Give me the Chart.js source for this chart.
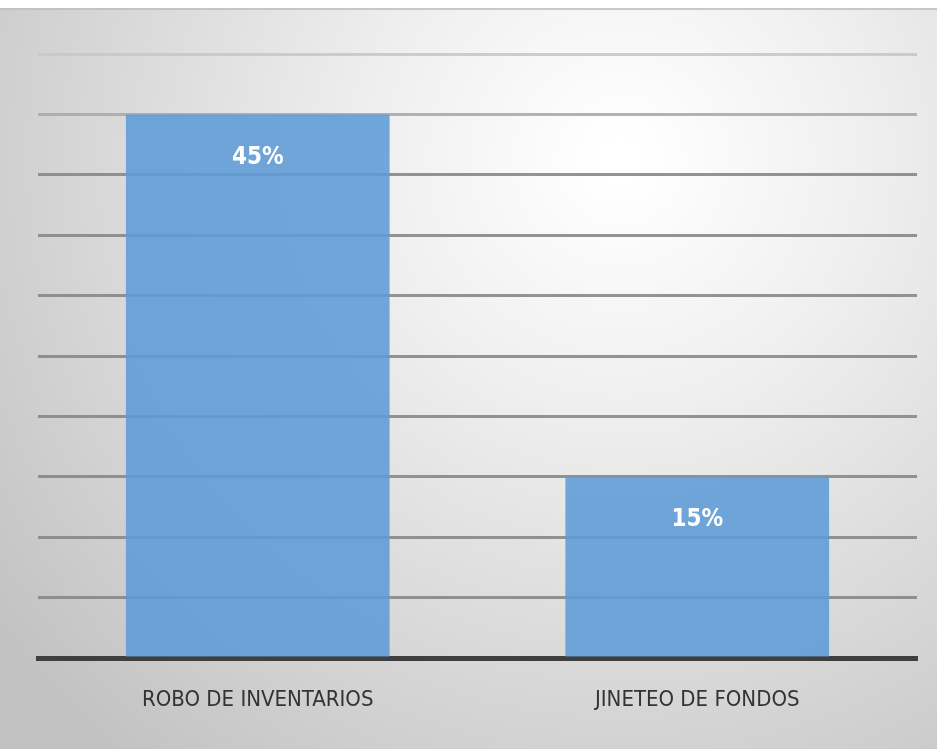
<!DOCTYPE html>
<html>
<head>
<meta charset="utf-8">
<script src="https://cdn.jsdelivr.net/npm/chart.js@4.4.0/dist/chart.umd.min.js"></script>
<style>
  html, body { margin: 0; padding: 0; background: #fff; }
  #wrap { width: 937px; height: 749px; position: relative; }
</style>
</head>
<body>
<div id="wrap"><canvas id="myChart" width="937" height="749"></canvas></div>
<script>
// data
const categories = ["ROBO DE INVENTARIOS", "JINETEO DE FONDOS"];
const percentValues = [45, 15];
const yTicks = [0, 5, 10, 15, 20, 25, 30, 35, 40, 45, 50];

var ctx = document.getElementById("myChart").getContext("2d");

// soft radial background like the office slide
const bgPlugin = {
  id: "bg",
  beforeDraw(chart) {
    const c = chart.ctx;
    c.save();
    c.fillStyle = "#ffffff";
    c.fillRect(0, 0, chart.width, chart.height);
    const g = c.createRadialGradient(620, 160, 20, 620, 160, 780);
    g.addColorStop(0, "#ffffff");
    g.addColorStop(0.3, "#efefef");
    g.addColorStop(1, "#c2c2c2");
    c.fillStyle = g;
    c.fillRect(0, 8, chart.width, chart.height - 8);
    c.fillStyle = "rgba(190,190,190,0.8)";
    c.fillRect(0, 8, chart.width, 2);
    c.restore();
  }
};

// value labels inside the bars
const valueLabels = {
  id: "valueLabels",
  afterDatasetsDraw(chart) {
    const c = chart.ctx;
    const meta = chart.getDatasetMeta(0);
    c.save();
    c.fillStyle = "#ffffff";
    c.font = "bold 24px 'Liberation Sans Narrow', 'DejaVu Sans Condensed', sans-serif";
    c.textAlign = "center";
    c.textBaseline = "middle";
    meta.data.forEach((bar, i) => {
      c.fillText(percentValues[i] + "%", bar.x, bar.y + 43);
    });
    c.restore();
  }
};

const gridColors = yTicks.map(v => {
  if (v === 50) return "rgba(200,200,200,0.9)";
  if (v === 45) return "rgba(170,170,170,0.9)";
  return "rgba(135,135,135,0.9)";
});

new Chart(ctx, {
  type: "bar",
  data: {
    labels: categories,
    datasets: [
      {
        data: percentValues,
        backgroundColor: "rgba(93,155,213,0.88)",
        borderWidth: 0,
        barPercentage: 0.6,
        categoryPercentage: 1.0,
      },
    ],
  },
  options: {
    responsive: false,
    animation: false,
    layout: { padding: { left: 38, right: 20, top: 54, bottom: 0 } },
    plugins: {
      legend: { display: false },
      tooltip: { enabled: false },
    },
    scales: {
      x: {
        grid: { display: false, drawTicks: false },
        border: { display: true, color: "#3f3f3f", width: 5 },
        ticks: {
          color: "#333333",
          padding: 29,
          font: { family: "'Liberation Sans Narrow', 'DejaVu Sans Condensed', sans-serif", size: 22 },
        },
        afterFit(scale) { scale.height = 91; },
      },
      y: {
        min: 0,
        max: 50,
        ticks: { display: false, stepSize: 5 },
        border: { display: false },
        grid: { color: gridColors, lineWidth: 3, drawTicks: false },
        afterFit(scale) { scale.width = 0; },
      },
    },
  },
  plugins: [bgPlugin, valueLabels],
});
</script>
</body>
</html>
